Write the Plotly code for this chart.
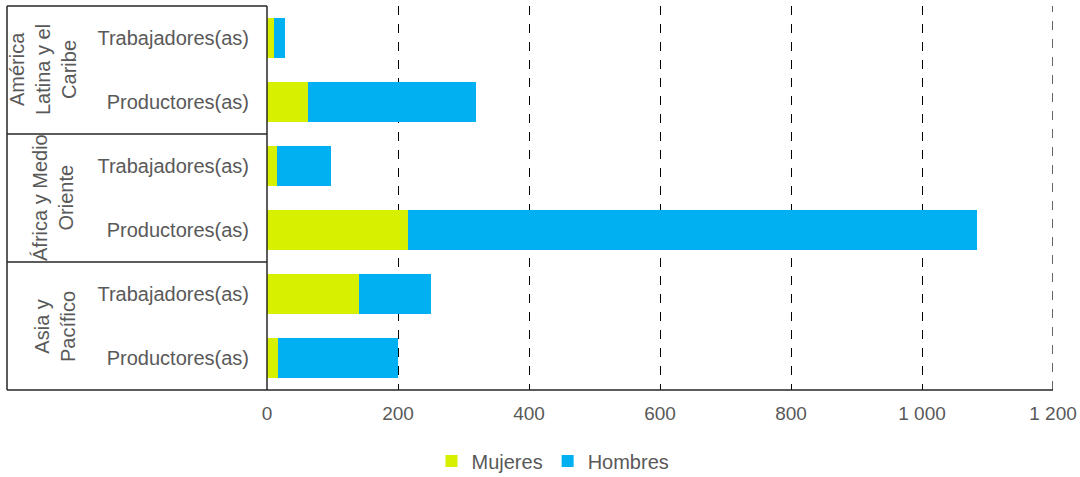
import plotly.graph_objects as go

# Data (top to bottom)
groups = ["América<br>Latina y el<br>Caribe", "África y Medio<br>Oriente", "Asia y<br>Pacífico"]
categories = ["Trabajadores(as)", "Productores(as)", "Trabajadores(as)", "Productores(as)",
              "Trabajadores(as)", "Productores(as)"]
mujeres = [10, 63, 15, 216, 140, 17]
hombres = [18, 256, 83, 868, 111, 183]
x_ticks = [0, 200, 400, 600, 800, 1000, 1200]

pos = list(range(len(categories)))
W, H = 1080, 477
L, R, T, B = 267, 27, 6, 87
pw = W - L - R
ph = H - T - B

def px_x(p):
    return (p - L) / pw

def px_y(p):
    return (H - B - p) / ph

GRAY = "#595959"
FONT = "Liberation Sans, Arial, sans-serif"

fig = go.Figure()
fig.add_trace(go.Bar(y=pos, x=mujeres, orientation="h", name="Mujeres",
                     marker=dict(color="#D6F000", line=dict(width=0))))
fig.add_trace(go.Bar(y=pos, x=hombres, orientation="h", name="Hombres",
                     marker=dict(color="#00B0F0", line=dict(width=0))))

shapes = []
lc = "#262626"
# dashed line at the last tick (edge of range)
shapes.append(dict(type="line", xref="x", yref="paper", x0=x_ticks[-1], x1=x_ticks[-1], y0=0, y1=1,
                   line=dict(color="#000000", width=1.2, dash="dash"), layer="below"))
# left axis line
shapes.append(dict(type="line", xref="paper", yref="paper", x0=0, x1=0, y0=0, y1=1,
                   line=dict(color=lc, width=1.5)))
# outer left border
shapes.append(dict(type="line", xref="paper", yref="paper", x0=px_x(7), x1=px_x(7), y0=0, y1=1,
                   line=dict(color=lc, width=1.5)))
# top line
shapes.append(dict(type="line", xref="paper", yref="paper", x0=px_x(7), x1=0, y0=1, y1=1,
                   line=dict(color=lc, width=1.5)))
# group separators
for yb in [1.5, 3.5]:
    shapes.append(dict(type="line", xref="paper", yref="y", x0=px_x(7), x1=0, y0=yb, y1=yb,
                       line=dict(color=lc, width=1.5)))
# bottom line
shapes.append(dict(type="line", xref="paper", yref="paper", x0=px_x(7), x1=1, y0=0, y1=0,
                   line=dict(color=lc, width=1.5)))

group_x_px = [43, 53, 55]
annotations = []
for i, g in enumerate(groups):
    annotations.append(dict(text=g, xref="paper", yref="y", x=px_x(group_x_px[i]), y=2 * i + 0.5,
                            textangle=-90, showarrow=False, xanchor="center", yanchor="middle",
                            font=dict(family=FONT, size=20, color=GRAY)))

fig.update_layout(
    barmode="stack",
    bargap=0.36,
    width=W, height=H,
    margin=dict(l=L, r=R, t=T, b=B, autoexpand=False),
    plot_bgcolor="white",
    paper_bgcolor="white",
    separators=", ",
    font=dict(family=FONT, color=GRAY),
    shapes=shapes,
    annotations=annotations,
    legend=dict(orientation="h", x=px_x(553), y=px_y(461), xanchor="center", yanchor="middle",
                font=dict(family=FONT, size=20, color=GRAY), itemwidth=30,
                traceorder="normal"),
    xaxis=dict(range=[0, 1200], tickvals=x_ticks, tickformat=",", showgrid=True,
               gridcolor="#000000", griddash="dash", gridwidth=1.2, zeroline=False,
               showline=False, tickfont=dict(family=FONT, size=19, color=GRAY),
               ticks="", ticklabelstandoff=10, automargin=False),
    yaxis=dict(tickvals=pos, ticktext=categories, range=[5.5, -0.5], showgrid=False,
               zeroline=False, showline=False, ticks="", ticklabelstandoff=17,
               automargin=False,
               tickfont=dict(family=FONT, size=20, color=GRAY)),
)

fig.write_html("out.html")
